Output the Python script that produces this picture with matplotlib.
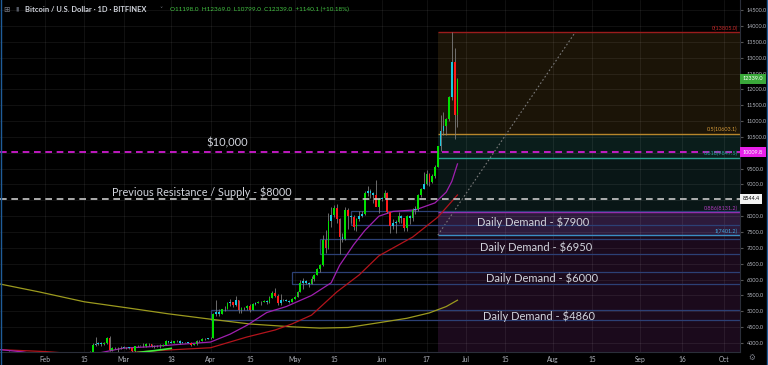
import numpy as np
import pandas as pd
import matplotlib
matplotlib.use("Agg")
import matplotlib.pyplot as plt
import matplotlib.dates as mdates
from matplotlib.patches import Rectangle

plt.rcParams['font.family'] = ['Lato', 'DejaVu Sans']

# daily candles, Bitfinex BTC/USD
dates = pd.date_range('2019-01-10', '2019-06-28', freq='D')
opens = [4030, 3640, 3640, 3610, 3510, 3680, 3600, 3640, 3660, 3620, 3700, 3550, 3560, 3600, 3570, 3590, 3580, 3580, 3550, 3440, 3420, 3470,
         3460, 3480, 3510, 3440, 3440, 3460, 3400, 3390, 3650, 3660, 3700, 3630, 3650, 3630, 3610, 3630, 3660, 3720, 3950, 3980, 4010, 3960, 4000, 4150, 3770, 3850, 3830, 3840,
         3840, 3860, 3860, 3830, 3740, 3900, 3910, 3920, 3890, 3980, 3960, 3890, 3910, 3900, 3910, 3950, 4060, 4030, 4010, 4050, 4070, 4010, 4020, 4030, 4010, 3940, 3960, 4070, 4060, 4140, 4140,
         4150, 4170, 4900, 4980, 4930, 5060, 5080, 5250, 5280, 5200, 5350, 5050, 5100, 5100, 5180, 5050, 5230, 5260, 5300, 5290, 5340, 5300, 5420, 5580, 5480, 5250, 5350, 5360, 5340, 5300,
         5400, 5460, 5620, 5900, 5950, 5900, 5860, 6020, 6150, 6330, 6450, 7250, 6990, 7850, 8050, 8250, 7900, 7350, 7280, 8200, 8000, 7980, 7650, 7900, 8020, 8080, 8720, 8800, 8730, 8670, 8300,
         8550, 8570, 8740, 8120, 7680, 7790, 7810, 8000, 7930, 7640, 8010, 7950, 8200, 8240, 8680, 8850, 9000, 9330, 9080, 9280, 9550, 10200, 10700, 10860, 11060, 11760, 12860, 11198]
highs = [4060, 3700, 3660, 3630, 3720, 3720, 3680, 3690, 3680, 3760, 3720, 3580, 3640, 3630, 3610, 3600, 3660, 3600, 3560, 3450, 3480, 3500,
         3510, 3520, 3520, 3460, 3480, 3470, 3430, 3720, 3680, 3710, 3710, 3680, 3690, 3650, 3680, 3700, 3740, 3990, 4180, 4040, 4030, 4020, 4180, 4220, 3880, 3870, 3860, 3900,
         3890, 3880, 3880, 3840, 3920, 3930, 3950, 3990, 4000, 3990, 3970, 3930, 3930, 3960, 3960, 4110, 4070, 4080, 4060, 4080, 4090, 4040, 4040, 4040, 4020, 3970, 4080, 4080, 4150, 4170, 4160,
         4180, 4950, 5350, 5080, 5070, 5180, 5300, 5380, 5290, 5480, 5370, 5120, 5140, 5200, 5220, 5250, 5300, 5330, 5340, 5370, 5350, 5480, 5650, 5720, 5560, 5550, 5400, 5380, 5360, 5420,
         5480, 5640, 6000, 6050, 5980, 5930, 6100, 6180, 6380, 6500, 7400, 7550, 8100, 8300, 8350, 8400, 7950, 7480, 8300, 8250, 8050, 8050, 7950, 8150, 8150, 8780, 8950, 8850, 8760, 9150, 8580,
         8620, 8820, 8760, 8130, 7900, 7880, 8120, 8050, 7950, 8050, 8030, 8250, 8310, 8700, 8900, 9400, 9450, 9350, 9320, 9600, 10200, 11200, 11300, 11100, 11800, 13805, 13300, 12369]
lows = [3600, 3570, 3560, 3480, 3500, 3570, 3590, 3570, 3590, 3610, 3530, 3510, 3460, 3550, 3550, 3550, 3570, 3520, 3420, 3390, 3400, 3440,
        3440, 3460, 3420, 3420, 3430, 3380, 3380, 3380, 3620, 3630, 3610, 3580, 3610, 3590, 3600, 3620, 3640, 3710, 3920, 3940, 3920, 3940, 3980, 3740, 3760, 3800, 3700, 3800,
        3830, 3810, 3810, 3720, 3730, 3860, 3890, 3860, 3880, 3920, 3870, 3840, 3870, 3850, 3900, 3940, 4000, 3990, 4000, 4020, 3980, 3990, 4000, 3990, 3900, 3930, 3950, 4040, 4050, 4110, 4130,
        4130, 4170, 4850, 4850, 4920, 5000, 5070, 5170, 5150, 5170, 4960, 4950, 5050, 5050, 4990, 5040, 5210, 5250, 5210, 5280, 5230, 5270, 5410, 5450, 5200, 5200, 5320, 5310, 5260, 5290,
        5390, 5440, 5600, 5700, 5850, 5780, 5850, 5960, 6130, 6250, 6430, 6850, 6950, 7650, 7980, 7800, 6800, 7200, 7250, 7600, 7800, 7550, 7520, 7850, 7980, 8050, 8650, 8580, 8430, 8450, 8100,
        8480, 8540, 8090, 7480, 7600, 7460, 7770, 7800, 7520, 7540, 7750, 7850, 8080, 8170, 8620, 8850, 8980, 8950, 9050, 9220, 9540, 10050, 10550, 10550, 11000, 11660, 10430, 10799]
closes = [3640, 3640, 3610, 3510, 3680, 3600, 3640, 3660, 3620, 3700, 3550, 3560, 3600, 3570, 3590, 3580, 3580, 3550, 3440, 3420, 3470, 3460,
          3480, 3510, 3440, 3440, 3460, 3400, 3390, 3650, 3660, 3700, 3630, 3650, 3630, 3610, 3630, 3660, 3720, 3950, 3980, 4010, 3960, 4000, 4150, 3770, 3850, 3830, 3840, 3840,
          3860, 3860, 3830, 3740, 3900, 3910, 3920, 3890, 3980, 3960, 3890, 3910, 3900, 3910, 3950, 4060, 4030, 4010, 4050, 4070, 4010, 4020, 4030, 4010, 3940, 3960, 4070, 4060, 4140, 4140, 4150,
          4170, 4900, 4980, 4930, 5060, 5080, 5250, 5280, 5200, 5350, 5050, 5100, 5100, 5180, 5050, 5230, 5260, 5300, 5290, 5340, 5300, 5420, 5580, 5480, 5250, 5350, 5360, 5340, 5300, 5400,
          5460, 5620, 5900, 5950, 5900, 5860, 6020, 6150, 6330, 6450, 7250, 6990, 7850, 8050, 8250, 7900, 7350, 7280, 8200, 8000, 7980, 7650, 7900, 8020, 8080, 8720, 8800, 8730, 8670, 8300, 8550,
          8570, 8740, 8120, 7680, 7790, 7810, 8000, 7930, 7640, 8010, 7950, 8200, 8240, 8680, 8850, 9000, 9330, 9080, 9280, 9550, 10200, 10700, 10860, 11060, 11760, 12860, 11200, 12339]

# moving averages read at a few dates
ma_fast_dates = ['2019-01-16', '2019-01-24', '2019-02-03', '2019-02-12', '2019-02-20', '2019-03-01', '2019-03-10', '2019-03-20',
                 '2019-04-01', '2019-04-08', '2019-04-14', '2019-04-21', '2019-04-28', '2019-05-07', '2019-05-14', '2019-05-17',
                 '2019-05-22', '2019-05-26', '2019-05-31', '2019-06-05', '2019-06-13', '2019-06-20', '2019-06-24', '2019-06-26', '2019-06-28']
ma_fast = [3790, 3720, 3560, 3560, 3680, 3840, 3880, 3950, 4030, 4280, 4560, 4960, 5150, 5500, 5900, 6450,
           7100, 7550, 8000, 8150, 8200, 8420, 8760, 9100, 9650]
ma_mid_dates = ['2019-01-16', '2019-02-01', '2019-02-15', '2019-03-01', '2019-03-17', '2019-04-01', '2019-04-14', '2019-04-24',
                '2019-04-30', '2019-05-07', '2019-05-16', '2019-05-24', '2019-05-31', '2019-06-12', '2019-06-21', '2019-06-28']
ma_mid = [3790, 3730, 3640, 3690, 3780, 3850, 4190, 4410, 4600, 4880, 5610, 6150, 6750, 7340, 7970, 8670]
ma_mid_up_dates = ['2019-03-06', '2019-03-12', '2019-03-18']
ma_mid_up = [3700, 3760, 3830]
ma_slow_dates = ['2019-01-16', '2019-01-30', '2019-02-15', '2019-03-03', '2019-03-17', '2019-04-02', '2019-04-15', '2019-04-30',
                 '2019-05-10', '2019-05-20', '2019-05-31', '2019-06-10', '2019-06-18', '2019-06-24', '2019-06-28']
ma_slow = [5860, 5610, 5300, 5100, 4920, 4740, 4600, 4510, 4470, 4490, 4640, 4780, 4950, 5150, 5350]

# fibonacci retracement
fib_high = 13805.0
fib_low = 7401.2
fib_ratios = [0, 0.5, 0.618, 0.886, 1]
fib_start = '2019-06-21'
fib_trend_end = '2019-08-09'

# demand zones
demand_labels = ['Daily Demand - $7900', 'Daily Demand - $6950', 'Daily Demand - $6000', 'Daily Demand - $4860']
demand_start = ['2019-05-21', '2019-05-10', '2019-04-30', '2019-04-01']
demand_top = [8150, 7290, 6240, 5040]
demand_bottom = [7720, 6810, 5860, 4730]
demand_label_at = [('2019-07-25', 7817), ('2019-07-26', 7028), ('2019-07-28', 6050), ('2019-07-27', 4852)]

resistance_10k = 10009.8
resistance_8k = 8544.4
last_close = 12339.0

xtick_dates = ['2019-02-01', '2019-02-15', '2019-03-01', '2019-03-18', '2019-04-01', '2019-04-15', '2019-05-01', '2019-05-15',
               '2019-06-01', '2019-06-17', '2019-07-01', '2019-07-15', '2019-08-01', '2019-08-15', '2019-09-01', '2019-09-16', '2019-10-01']
xtick_labels = ['Feb', '15', 'Mar', '18', 'Apr', '15', 'May', '15', 'Jun', '17', 'Jul', '15', 'Aug', '15', 'Sep', '16', 'Oct']


def dn(s):
    return mdates.date2num(pd.Timestamp(s))


fig = plt.figure(figsize=(7.68, 3.65), dpi=100, facecolor='#000000')
ax = fig.add_axes([0, 13 / 365, 740 / 768, 352 / 365], facecolor='#000000')
t_feb = dn('2019-02-01')
ax.set_xlim(t_feb - 16.04, t_feb + 247.7)
ax.set_ylim(3716, 14820)
far = dn('2020-03-01')

# fib zones
fib_prices = [fib_high - r * (fib_high - fib_low) for r in fib_ratios]
zone_colors = ['#1b1407', '#0a1d1b', '#091616', '#2d1a3b', '#1b0a1c']
zone_edges = fib_prices + [3000]
fs = dn(fib_start)
for i, zc in enumerate(zone_colors):
    ax.add_patch(Rectangle((fs, zone_edges[i + 1]), far - fs, zone_edges[i] - zone_edges[i + 1],
                           facecolor=zc, edgecolor='none', zorder=1))
fib_line_colors = ['#9b1c1c', '#b8862b', '#2a9d8f', '#a02cb4', '#3b8fc4']
fib_text_colors = ['#c62828', '#d49a3a', '#26a69a', '#b03cc0', '#3fa9e0']
for r, p, lc, tc in zip(fib_ratios, fib_prices, fib_line_colors, fib_text_colors):
    ax.hlines(p, fs, far, color=lc, lw=1.0, zorder=2)
    ax.text(0.997, p + 40, f'{r:g}({p:.1f})', transform=ax.get_yaxis_transform(),
            ha='right', va='bottom', fontsize=4, color=tc, zorder=6)
ax.plot([fs, dn(fib_trend_end)], [fib_low, fib_high], color='#7a7a7a', lw=0.8,
        linestyle=(0, (1.5, 2)), zorder=2)

# demand zones
for s, top, bot in zip(demand_start, demand_top, demand_bottom):
    ax.add_patch(Rectangle((dn(s), bot), far - dn(s), top - bot, facecolor='none',
                           edgecolor='#2c4075', lw=0.9, zorder=2))

# grid
ax.set_axisbelow('line')
ax.grid(True, color='#ffffff', alpha=0.08, lw=0.6)

# moving averages
ax.plot([dn(d) for d in ma_slow_dates], ma_slow, color='#9c9a1e', lw=0.9, zorder=3)
ax.plot([dn(d) for d in ma_mid_dates], ma_mid, color='#b3141c', lw=0.9, zorder=3)
ax.plot([dn(d) for d in ma_mid_up_dates], ma_mid_up, color='#3cf03c', lw=1.2, zorder=3)
ax.plot([dn(d) for d in ma_fast_dates], ma_fast, color='#a020b0', lw=0.9, zorder=3)

# dashed levels
ax.axhline(resistance_10k, color='#e01ee0', lw=1.2, linestyle=(0, (4, 2.8)), zorder=5)
ax.axhline(resistance_8k, color='#c8c8c8', lw=1.2, linestyle=(0, (4, 2.8)), zorder=5)

# candles
t = mdates.date2num(dates)
o = np.array(opens, float)
h = np.array(highs, float)
l = np.array(lows, float)
c = np.array(closes, float)
colors = []
for i in range(len(t)):
    if c[i] > o[i]:
        colors.append('#18c8e0' if (h[i] - c[i]) > 0.8 * (c[i] - o[i]) else '#00e000')
    elif c[i] < o[i]:
        colors.append('#18c8e0' if (o[i] - c[i]) < 0.015 * o[i] else '#ff1a1a')
    else:
        colors.append('#7d7d7d')
ax.vlines(t, l, h, color='#7d7d7d', lw=0.6, zorder=4)
ax.bar(t, c - o, bottom=o, width=0.62, color=colors, linewidth=0, zorder=4)

# annotations
txt = '#d1d4dc'
ax.text(dn('2019-04-07'), 10310, '$10,000', color=txt, fontsize=8, ha='center', va='center', zorder=7)
ax.text(dn('2019-03-29'), 8763, 'Previous Resistance / Supply - $8000', color=txt, fontsize=7.8,
        ha='center', va='center', zorder=7)
for lab, (d, p) in zip(demand_labels, demand_label_at):
    ax.text(dn(d), p, lab, color=txt, fontsize=8, ha='center', va='center', zorder=7)

# axes; price-axis labels hidden under the highlighted boxes are left blank
boxes = [(last_close, '#3aa83a', '#ffffff'), (resistance_10k, '#e820e8', '#ffffff'),
         (resistance_8k, '#f2f2f2', '#000000')]
yt = np.arange(4000, 14501, 500)
covered = [min(abs(v - b[0]) for b in boxes[1:]) < 150 for v in yt]
ax.set_xticks([dn(d) for d in xtick_dates])
ax.set_xticklabels(xtick_labels)
ax.set_yticks(yt)
ax.set_yticklabels(['' if cv else f'{v:.1f}' for v, cv in zip(yt, covered)])
ax.yaxis.tick_right()
ax.tick_params(axis='x', colors='#b2b5be', labelsize=4.8, length=0, pad=3)
ax.tick_params(axis='y', colors='#b2b5be', labelsize=4, length=2, pad=3, color='#555555')
for sp in ['top', 'left']:
    ax.spines[sp].set_visible(False)
for sp in ['right', 'bottom']:
    ax.spines[sp].set_color('#2a2e39')
    ax.spines[sp].set_linewidth(0.8)

# price labels on the axis
for p, fc, tc in boxes:
    ax.annotate(f'{p:.1f}', xy=(1, p), xycoords=('axes fraction', 'data'), xytext=(2, 0),
                textcoords='offset points', ha='left', va='center', fontsize=4, color=tc,
                bbox=dict(boxstyle='square,pad=0.45', fc=fc, ec='none'), annotation_clip=False, zorder=8)

# header
def px(x, y):
    return x / 768, 1 - y / 365

fig.text(*px(3, 9), '\u229e', color='#787b86', fontsize=5.5, va='center', family=['DejaVu Sans'])
fig.text(*px(15, 9), '\u25ae', color='#555a66', fontsize=4.5, va='center', family=['DejaVu Sans'])
fig.text(*px(25, 9), 'Bitcoin / U.S. Dollar \u00b7 1D \u00b7 BITFINEX', color='#d1d4dc', fontsize=5.4,
         va='center', weight='bold')
fig.text(*px(159, 9), '\u02c5', color='#787b86', fontsize=4.5, va='center', family=['DejaVu Sans'])
fig.text(*px(170, 9), 'O11198.0  H12369.0  L10799.0  C12339.0  +1140.1 (+10.18%)', color='#43c443',
         fontsize=4.6, va='center')
fig.text(*px(752, 357), '\u2699', color='#787b86', fontsize=5.5, va='center', ha='center', family=['DejaVu Sans'])

# window frame
fig.add_artist(plt.Line2D([0.6 / 768] * 2, [0, 1], transform=fig.transFigure, color='#1f5c99', lw=1))
fig.add_artist(plt.Line2D([766.5 / 768] * 2, [0, 1], transform=fig.transFigure, color='#1f5c99', lw=1))

fig.savefig('out.png', dpi=100, facecolor=fig.get_facecolor())
